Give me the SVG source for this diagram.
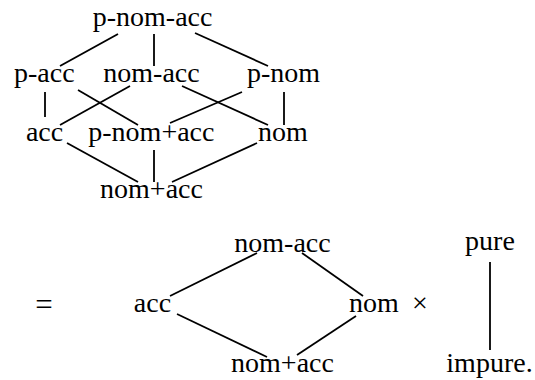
<svg xmlns="http://www.w3.org/2000/svg" width="535" height="380" viewBox="0 0 535 380">
<style>
.t text{font-family:"Liberation Serif","Times New Roman",Times,serif;font-size:28px;fill:#000;text-anchor:middle}
.e line{stroke:#000;stroke-width:1.8;stroke-linecap:butt}
</style>
<rect width="535" height="380" fill="#fff"/>
<g class="e" id="connectors">
<line x1="118" y1="34" x2="60" y2="66"/>
<line x1="154" y1="34" x2="154" y2="66"/>
<line x1="195" y1="33" x2="268" y2="66"/>
<line x1="45" y1="92" x2="45" y2="117"/>
<line x1="78" y1="90" x2="138" y2="125"/>
<line x1="130" y1="86" x2="60" y2="125"/>
<line x1="182" y1="86" x2="268" y2="125"/>
<line x1="242" y1="92" x2="170" y2="123"/>
<line x1="284" y1="92" x2="284" y2="125"/>
<line x1="67" y1="143" x2="138" y2="182"/>
<line x1="154" y1="150" x2="154" y2="182"/>
<line x1="257" y1="143" x2="172" y2="182"/>
<line x1="170" y1="296" x2="257" y2="253"/>
<line x1="177" y1="314" x2="267" y2="357"/>
<line x1="302" y1="253" x2="363" y2="296"/>
<line x1="356" y1="316" x2="297" y2="355"/>
<line x1="490" y1="262" x2="490" y2="350"/>
</g>
<g class="t" font-family="'Liberation Serif', 'Times New Roman', serif">
<g id="n-p-nom-acc"><text x="152.6" y="26">p-nom-acc</text></g>
<g id="n-p-acc"><text x="44.3" y="82">p-acc</text></g>
<g id="n-nom-acc"><text x="151.5" y="82">nom-acc</text></g>
<g id="n-p-nom"><text x="283.5" y="82">p-nom</text></g>
<g id="n-acc"><text x="44.6" y="141">acc</text></g>
<g id="n-p-nom-plus-acc"><text x="151.4" y="141">p-nom+acc</text></g>
<g id="n-nom"><text x="283" y="141">nom</text></g>
<g id="n-nom-plus-acc"><text x="151.5" y="198">nom+acc</text></g>
<g id="eq"><text x="44" y="315" style="font-size:31px">=</text></g>
<g id="b-acc"><text x="152.5" y="312">acc</text></g>
<g id="b-nom-acc"><text x="282.5" y="252">nom-acc</text></g>
<g id="b-nom-plus-acc"><text x="282.5" y="372">nom+acc</text></g>
<g id="b-nom"><text x="374" y="312">nom</text></g>
<g id="times"><text x="420" y="312">×</text></g>
<g id="b-pure"><text x="490" y="250">pure</text></g>
<g id="b-impure"><text x="489.5" y="372">impure.</text></g>
</g>
</svg>
